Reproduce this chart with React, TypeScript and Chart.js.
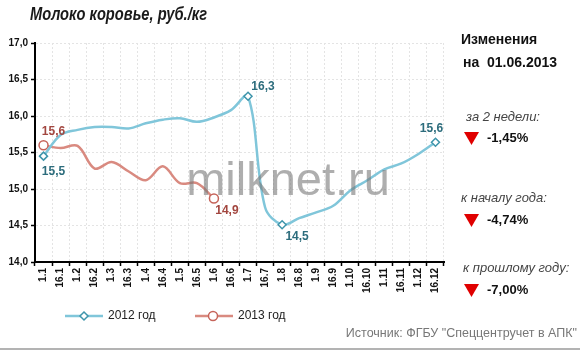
import React, { useEffect, useRef } from "react";
import { Chart, registerables } from "chart.js";

Chart.register(...registerables);

const categories = [
  "1.1", "16.1", "1.2", "16.2", "1.3", "16.3", "1.4", "16.4", "1.5", "16.5", "1.6", "16.6",
  "1.7", "16.7", "1.8", "16.8", "1.9", "16.9", "1.10", "16.10", "1.11", "16.11", "1.12", "16.12",
];
const series2012 = [
  15.45, 15.74, 15.81, 15.85, 15.85, 15.83, 15.9, 15.95, 15.97, 15.92, 15.98, 16.08,
  16.27, 14.75, 14.51, 14.6, 14.68, 14.77, 14.98, 15.12, 15.27, 15.35, 15.48, 15.64,
];
const series2013 = [15.6, 15.56, 15.59, 15.28, 15.37, 15.24, 15.12, 15.31, 15.08, 15.08, 14.87];
const markers2012 = [0, 12, 14, 23];
const markers2013 = [0, 10];
const labels2012 = [
  { i: 0, text: "15,5", dx: 10, dy: 16 },
  { i: 12, text: "16,3", dx: 15, dy: -10 },
  { i: 14, text: "14,5", dx: 15, dy: 12 },
  { i: 23, text: "15,6", dx: -4, dy: -14 },
];
const labels2013 = [
  { i: 0, text: "15,6", dx: 10, dy: -14 },
  { i: 10, text: "14,9", dx: 13, dy: 12 },
];
const legendNames = ["2012 год", "2013 год"];
const titleText = "Молоко коровье, руб./кг";
const panelTitle = "Изменения";
const panelDateLabel = "на";
const panelDate = "01.06.2013";
const changeLabels = ["за 2 недели:", "к началу года:", "к прошлому году:"];
const changeValues = ["-1,45%", "-4,74%", "-7,00%"];
const sourceText = "Источник: ФГБУ \"Спеццентручет в АПК\"";
const watermark = "milknet.ru";

const BLUE = "#80c6da";
const BLUE_DARK = "#3f95ab";
const RED = "#d98a80";
const RED_DARK = "#c6645a";
const LBL_BLUE = "#2c6c7c";
const LBL_RED = "#a2463f";
const FONT = '"Liberation Sans", Arial, sans-serif';

const decorPlugin = {
  id: "decor",
  beforeDraw(chart: any) {
    const ctx = chart.ctx;
    ctx.save();
    ctx.fillStyle = "#ffffff";
    ctx.fillRect(0, 0, chart.width, chart.height);
    ctx.restore();
  },
  afterDatasetsDraw(chart: any) {
    const ctx = chart.ctx;
    ctx.save();
    ctx.font = `47px ${FONT}`;
    ctx.fillStyle = "rgba(120,120,120,0.6)";
    ctx.textAlign = "center";
    ctx.textBaseline = "alphabetic";
    ctx.fillText(watermark, 288, 195);

    ctx.font = `bold 12px ${FONT}`;
    ctx.textBaseline = "middle";
    const m0 = chart.getDatasetMeta(0);
    const m1 = chart.getDatasetMeta(1);
    ctx.fillStyle = LBL_BLUE;
    labels2012.forEach((l) => {
      const p = m0.data[l.i];
      ctx.fillText(l.text, p.x + l.dx, p.y + l.dy);
    });
    ctx.fillStyle = LBL_RED;
    labels2013.forEach((l) => {
      const p = m1.data[l.i];
      ctx.fillText(l.text, p.x + l.dx, p.y + l.dy);
    });
    ctx.restore();
  },
  afterDraw(chart: any) {
    const ctx = chart.ctx;
    ctx.save();
    ctx.font = `italic bold 18px ${FONT}`;
    ctx.fillStyle = "#1a1a1a";
    ctx.textBaseline = "alphabetic";
    ctx.textAlign = "left";
    const tw = ctx.measureText(titleText).width;
    ctx.save();
    ctx.translate(30, 20);
    ctx.scale(177 / tw, 1);
    ctx.fillText(titleText, 0, 0);
    ctx.restore();

    ctx.fillStyle = "#111";
    ctx.font = `bold 14px ${FONT}`;
    ctx.textBaseline = "middle";
    ctx.fillText(panelTitle, 461, 40);
    ctx.fillText(panelDateLabel, 463, 63);
    ctx.fillText(panelDate, 487, 63);

    const labelY = [117, 198, 268];
    const valueY = [138, 220, 290];
    const labelX = [466, 461, 463];
    for (let k = 0; k < 3; k++) {
      ctx.font = `italic 13px ${FONT}`;
      ctx.fillStyle = "#444";
      ctx.fillText(changeLabels[k], labelX[k], labelY[k]);
      ctx.fillStyle = "#e00000";
      ctx.beginPath();
      ctx.moveTo(464, valueY[k] - 6);
      ctx.lineTo(479, valueY[k] - 6);
      ctx.lineTo(471.5, valueY[k] + 7);
      ctx.closePath();
      ctx.fill();
      ctx.font = `bold 13px ${FONT}`;
      ctx.fillStyle = "#111";
      ctx.fillText(changeValues[k], 487, valueY[k]);
    }

    const ly = 316;
    ctx.lineWidth = 2.5;
    ctx.strokeStyle = BLUE;
    ctx.beginPath();
    ctx.moveTo(65, ly);
    ctx.lineTo(103, ly);
    ctx.stroke();
    ctx.fillStyle = "#fff";
    ctx.strokeStyle = BLUE_DARK;
    ctx.lineWidth = 1.5;
    ctx.beginPath();
    ctx.moveTo(84, ly - 4);
    ctx.lineTo(88, ly);
    ctx.lineTo(84, ly + 4);
    ctx.lineTo(80, ly);
    ctx.closePath();
    ctx.fill();
    ctx.stroke();

    ctx.lineWidth = 2.5;
    ctx.strokeStyle = RED;
    ctx.beginPath();
    ctx.moveTo(195, ly);
    ctx.lineTo(233, ly);
    ctx.stroke();
    ctx.strokeStyle = RED_DARK;
    ctx.lineWidth = 1.5;
    ctx.beginPath();
    ctx.arc(213, ly, 4.5, 0, Math.PI * 2);
    ctx.fill();
    ctx.stroke();

    ctx.font = `12px ${FONT}`;
    ctx.fillStyle = "#222";
    ctx.fillText(legendNames[0], 108, ly);
    ctx.fillText(legendNames[1], 238, ly);

    ctx.font = `12.5px ${FONT}`;
    ctx.fillStyle = "#777";
    ctx.textAlign = "right";
    ctx.fillText(sourceText, 577, 334);

    ctx.strokeStyle = "#9a9a9a";
    ctx.lineWidth = 1.5;
    ctx.beginPath();
    ctx.moveTo(0, 349);
    ctx.lineTo(580, 349);
    ctx.stroke();
    ctx.restore();
  },
};

export default function App() {
  const ref = useRef<HTMLCanvasElement | null>(null);
  useEffect(() => {
    document.body.style.margin = "0";
    if (!ref.current) return;
    const radius = (n: number, idx: number[], r: number) =>
      Array.from({ length: n }, (_, i) => (idx.includes(i) ? r : 0));
    const chart = new Chart(ref.current, {
      type: "line",
      data: {
        labels: categories,
        datasets: [
          {
            label: legendNames[0],
            data: series2012,
            borderColor: BLUE,
            borderWidth: 2.5,
            tension: 0.35,
            pointStyle: "rectRot",
            pointRadius: radius(series2012.length, markers2012, 4),
            pointBackgroundColor: "#fff",
            pointBorderColor: BLUE_DARK,
            pointBorderWidth: 1.5,
            fill: false,
          },
          {
            label: legendNames[1],
            data: series2013,
            borderColor: RED,
            borderWidth: 2.5,
            tension: 0.35,
            pointStyle: "circle",
            pointRadius: radius(series2013.length, markers2013, 4.5),
            pointBackgroundColor: "#fff",
            pointBorderColor: RED_DARK,
            pointBorderWidth: 1.5,
            fill: false,
          },
        ],
      },
      options: {
        responsive: false,
        animation: false,
        layout: { padding: { top: 43, right: 136, bottom: 0, left: 0 } },
        plugins: {
          legend: { display: false },
          tooltip: { enabled: false },
          title: { display: false },
        },
        scales: {
          x: {
            offset: true,
            afterFit: (s: any) => {
              s.height = 93;
            },
            grid: {
              offset: true,
              color: "#e4e4e4",
              tickColor: "#000",
              tickLength: 4,
              tickWidth: 1.5,
            },
            border: { color: "#000", width: 2, dash: [2, 2] },
            ticks: {
              autoSkip: false,
              minRotation: 90,
              maxRotation: 90,
              padding: 2,
              color: "#111",
              font: { family: FONT, size: 10, weight: "bold" },
            },
          },
          y: {
            min: 14,
            max: 17,
            afterFit: (s: any) => {
              s.width = 35;
            },
            grid: {
              color: "#e4e4e4",
              tickColor: "#000",
              tickLength: 4,
              tickWidth: 1.5,
            },
            border: { color: "#000", width: 2, dash: [2, 2] },
            ticks: {
              stepSize: 0.5,
              padding: 3,
              color: "#111",
              font: { family: FONT, size: 10, weight: "bold" },
              callback: (v: any) => Number(v).toFixed(1).replace(".", ","),
            },
          },
        },
      },
      plugins: [decorPlugin],
    } as any);
    return () => chart.destroy();
  }, []);
  return (
    <div style={{ position: "absolute", left: 0, top: 0, width: 580, height: 355 }}>
      <canvas ref={ref} width={580} height={355} style={{ width: 580, height: 355 }} />
    </div>
  );
}
